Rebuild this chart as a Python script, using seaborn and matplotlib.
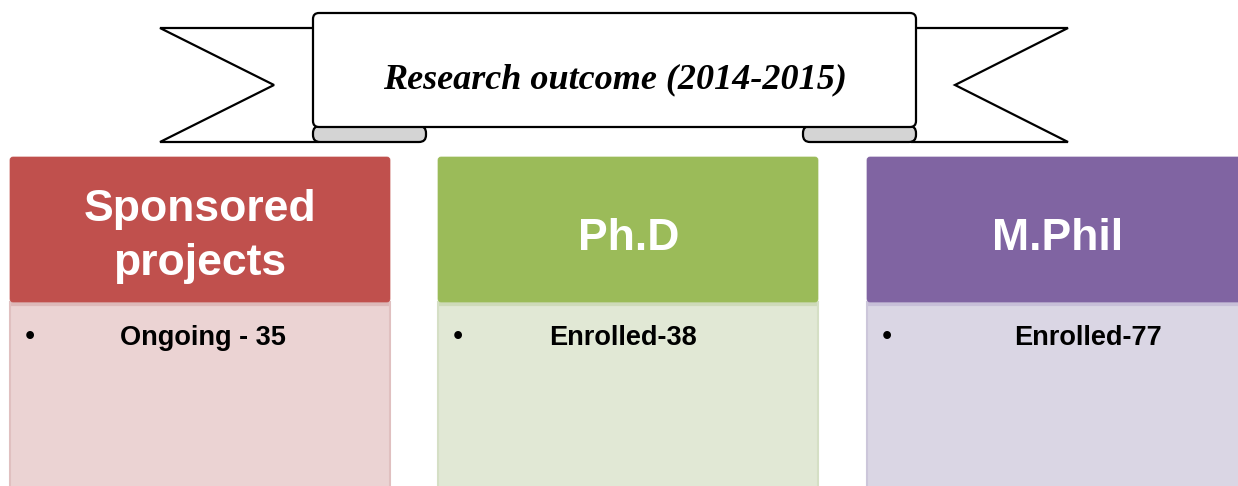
import matplotlib
matplotlib.use("Agg")
import matplotlib.pyplot as plt
from matplotlib.patches import Polygon, FancyBboxPatch
import seaborn as sns

sns.set_theme(style="white")
plt.rcParams['font.family'] = ['Liberation Sans', 'DejaVu Sans']

# ---- data ----
title = "Research outcome (2014-2015)"
headers = ["Sponsored\nprojects", "Ph.D", "M.Phil"]
items = ["Ongoing - 35", "Enrolled-38", "Enrolled-77"]
header_colors = ["#C0504D", "#9BBB59", "#8064A2"]
body_colors = ["#EBD3D3", "#E1E8D5", "#DAD6E4"]
edge_colors = ["#E0C0C0", "#D5DFC5", "#CCC6DA"]
shadow_colors = ["#DDB9B9", "#CEDAB9", "#C7BFD8"]

W, H = 1238, 486
fig = plt.figure(figsize=(W / 100, H / 100), dpi=100)
ax = fig.add_axes([0, 0, 1, 1])
ax.set_xlim(0, W)
ax.set_ylim(H, 0)
ax.axis("off")

lw = 1.6
# ---- banner tails ----
ax.add_patch(Polygon([(160, 28), (318, 28), (318, 142), (160, 142), (274, 85)],
                     closed=True, fc="white", ec="black", lw=lw, zorder=1))
ax.add_patch(Polygon([(1068, 28), (912, 28), (912, 142), (1068, 142), (955, 85)],
                     closed=True, fc="white", ec="black", lw=lw, zorder=1))
# curls
for x0, x1 in [(313, 426), (803, 916)]:
    ax.add_patch(FancyBboxPatch((x0, 126), x1 - x0, 16,
                                boxstyle="round,pad=0,rounding_size=7",
                                fc="#D4D4D4", ec="black", lw=lw, zorder=2))
# center scroll
ax.add_patch(FancyBboxPatch((313, 13), 916 - 313, 127 - 13,
                            boxstyle="round,pad=0,rounding_size=6",
                            fc="white", ec="black", lw=lw, zorder=3))
ax.text(615, 88, title, ha="center", va="baseline", fontsize=26,
        fontweight="bold", fontstyle="italic", family=["Liberation Serif", "DejaVu Serif"],
        color="black", zorder=4)

# ---- boxes ----
box_x = [10, 438, 867]
box_w = 380
head_top, head_bot, body_bot = 157, 302, 500
header_base = [[221, 275], [250], [250]]
header_cx = [200, 629, 1058]
item_cx = [203, 623, 1088]

for i in range(len(headers)):
    x = box_x[i]
    # body
    ax.add_patch(FancyBboxPatch((x, head_bot), box_w, body_bot - head_bot,
                                boxstyle="square,pad=0",
                                fc=body_colors[i], ec=edge_colors[i], lw=1.5, zorder=1))
    ax.plot([x + 1, x + box_w - 1], [head_bot + 2, head_bot + 2],
            color=shadow_colors[i], lw=3, zorder=2, solid_capstyle="butt")
    # header
    ax.add_patch(FancyBboxPatch((x, head_top), box_w, head_bot - head_top,
                                boxstyle="round,pad=0,rounding_size=3",
                                fc=header_colors[i], ec=header_colors[i], lw=0.5, zorder=3))
    lines = headers[i].split("\n")
    for ln, yb in zip(lines, header_base[i]):
        ax.text(header_cx[i], yb, ln, ha="center", va="baseline", color="white",
                fontsize=32, fontweight="bold", zorder=4)
    # bullet + item
    ax.text(x + 20, 343, "\u2022", ha="center", va="baseline", color="black",
            fontsize=16, fontweight="bold", family=["DejaVu Sans"], zorder=4)
    ax.text(item_cx[i], 345, items[i], ha="center", va="baseline", color="black",
            fontsize=19.5, fontweight="bold", zorder=4)

fig.savefig("out.png", dpi=100, facecolor="white")
